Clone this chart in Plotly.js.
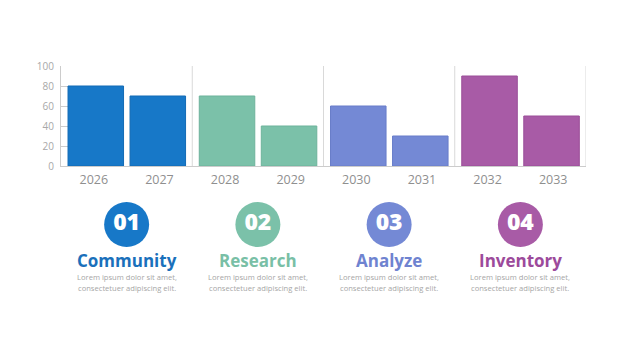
<!DOCTYPE html>
<html>
<head>
<meta charset="utf-8">
<script src="https://cdn.plot.ly/plotly-3.0.1.min.js"></script>
<style>html,body{margin:0;padding:0;background:#fff;}#chart{width:626px;height:352px;}</style>
</head>
<body>
<div id="chart"></div>
<script>
const years = ['2026','2027','2028','2029','2030','2031','2032','2033'];
const values = [80, 70, 70, 40, 60, 30, 90, 50];
const groupNames = ['Community','Research','Analyze','Inventory'];
const groupNumbers = ['01','02','03','04'];
const loremLine1 = 'Lorem ipsum dolor sit amet,';
const loremLine2 = 'consectetuer adipiscing elit.';
const yTicks = [0, 20, 40, 60, 80, 100];

const barColors = ['#1778C8', '#7BC1A9', '#7489D5', '#A85BA6'];
const barEdge = ['#136BB5', '#6DB39B', '#687DC9', '#9A4E98'];
const titleColors = ['#1A70BB', '#79BFA6', '#6F83D0', '#9C4A9B'];

const W = 626, H = 352;
const plotTop = 66, plotBottom = 166;
const font = 'Open Sans, Lato, sans-serif';

const colorsPerBar = years.map((y, i) => barColors[Math.floor(i / 2)]);
const edgePerBar = years.map((y, i) => barEdge[Math.floor(i / 2)]);
const offsets = years.map((y, i) => i % 2 === 0 ? -0.393 : -0.448);

const bars = {
  type: 'bar', x: years, y: values,
  xaxis: 'x', yaxis: 'y',
  marker: {color: colorsPerBar, line: {color: edgePerBar, width: 1}},
  offset: offsets, width: 0.846,
  hoverinfo: 'x+y'
};

const groupX = groupNames.map((g, i) => i * 2 + 0.5);
const circles = {
  type: 'scatter', mode: 'markers+text',
  x: groupX, y: groupNames.map(() => 224.5),
  xaxis: 'x2', yaxis: 'y2',
  marker: {size: 45, color: barColors, line: {width: 0}},
  text: groupNumbers, textposition: 'middle center',
  textfont: {family: 'Open Sans', size: 23, color: '#ffffff', weight: 800},
  hoverinfo: 'skip', cliponaxis: false
};

const annotations = [];
groupNames.forEach((g, i) => {
  annotations.push({xref: 'x2', yref: 'y2', x: groupX[i], y: 260, text: '<b>' + g + '</b>', showarrow: false,
    xanchor: 'center', yanchor: 'middle', borderpad: 0, font: {family: font, size: 17, color: titleColors[i]}});
  annotations.push({xref: 'x2', yref: 'y2', x: groupX[i], y: 277, text: loremLine1, showarrow: false,
    xanchor: 'center', yanchor: 'middle', borderpad: 0, font: {family: font, size: 7.6, color: '#a6a6a6'}});
  annotations.push({xref: 'x2', yref: 'y2', x: groupX[i], y: 287.5, text: loremLine2, showarrow: false,
    xanchor: 'center', yanchor: 'middle', borderpad: 0, font: {family: font, size: 7.6, color: '#a6a6a6'}});
});

const shapes = [];
for (let g = 1; g <= groupNames.length; g++) {
  shapes.push({type: 'line', xref: 'x', yref: 'y', x0: g * 2 - 0.5, x1: g * 2 - 0.5, y0: 0, y1: 100,
    line: {color: '#d9d9d9', width: 1}, layer: 'below'});
}

const layout = {
  width: W, height: H,
  margin: {l: 61, r: 40, t: 0, b: 0, pad: 0},
  paper_bgcolor: '#ffffff', plot_bgcolor: 'rgba(0,0,0,0)',
  showlegend: false,
  font: {family: font},
  xaxis: {
    type: 'category', domain: [0, 1], anchor: 'y', range: [-0.5, 7.5],
    showgrid: false, zeroline: false, showline: true, linecolor: '#cccccc', linewidth: 1,
    ticks: '', tickfont: {family: font, size: 12.5, color: '#8f8f8f'}, ticklabelstandoff: 2,
    layer: 'below traces', fixedrange: true
  },
  yaxis: {
    domain: [1 - plotBottom / H, 1 - plotTop / H], anchor: 'x', range: [0, 100],
    tickvals: yTicks, ticks: 'inside', ticklen: 12, tickcolor: '#cccccc', tickwidth: 1,
    showgrid: false, zeroline: false, showline: true, linecolor: '#cccccc', linewidth: 1,
    tickfont: {family: font, size: 10, color: '#a8a8a8'}, ticklabelstandoff: 4,
    layer: 'below traces', fixedrange: true
  },
  xaxis2: {domain: [0, 1], anchor: 'y2', range: [-0.5, 7.5], visible: false, fixedrange: true},
  yaxis2: {domain: [0, 1], anchor: 'x2', range: [H, 0], visible: false, fixedrange: true},
  shapes: shapes,
  annotations: annotations
};

Plotly.newPlot('chart', [bars, circles], layout, {displayModeBar: false, staticPlot: true});
</script>
</body>
</html>
